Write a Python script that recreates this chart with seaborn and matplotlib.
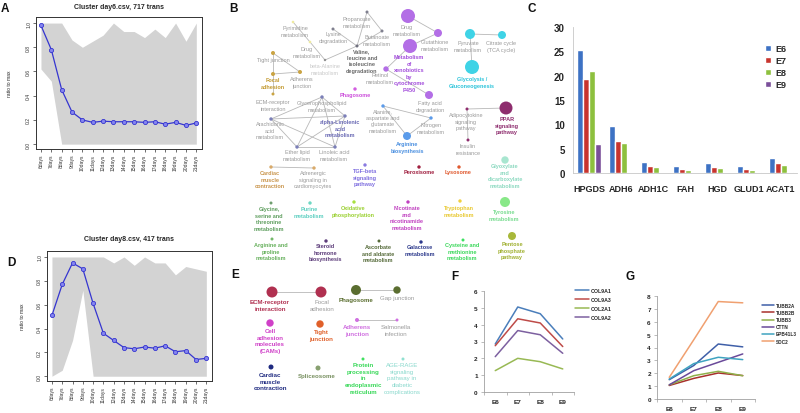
import numpy as np
import pandas as pd
import matplotlib
matplotlib.use("Agg")
import matplotlib.pyplot as plt
import seaborn as sns

W, H, DPI = 800, 414, 100

# ---- panels A / D: cluster profiles (mean line + grey envelope of members) ----
DAYS = ["6days", "7days", "8days", "9days", "10days", "11days", "12days", "13days",
        "14days", "15days", "16days", "17days", "18days", "19days", "20days", "21days"]
A_MEAN = [0.98, 0.78, 0.45, 0.265, 0.20, 0.18, 0.19, 0.185, 0.185, 0.185, 0.18, 0.185, 0.165, 0.18, 0.155, 0.175]
A_UPPER = [1.0, 1.0, 1.0, 0.86, 0.80, 0.85, 0.90, 1.0, 0.93, 0.93, 0.88, 0.95, 0.88, 1.0, 0.85, 1.0]
A_LOWER = [0.62, 0.52, 0.0, 0.0, 0.0, 0.0, 0.0, 0.0, 0.0, 0.0, 0.0, 0.0, 0.0, 0.0, 0.0, 0.0]
D_MEAN = [0.51, 0.77, 0.95, 0.90, 0.61, 0.36, 0.30, 0.24, 0.23, 0.245, 0.235, 0.255, 0.205, 0.215, 0.14, 0.15]
D_UPPER = [1.0, 1.0, 1.0, 1.0, 1.0, 1.0, 0.95, 1.0, 0.93, 1.0, 0.95, 0.95, 0.85, 0.92, 0.90, 0.88]
D_LOWER = [0.0, 0.05, 0.30, 0.72, 0.0, 0.0, 0.0, 0.0, 0.0, 0.0, 0.0, 0.0, 0.0, 0.0, 0.0, 0.0]

# ---- panel C: bar chart ----
C_GENES = ["HPGDS", "ADH6", "ADH1C", "FAH", "HGD", "GLUD1", "ACAT1"]
C_E6 = [25.2, 9.6, 2.3, 1.4, 2.0, 1.4, 3.0]
C_E7 = [19.4, 6.5, 1.5, 0.9, 1.3, 0.9, 2.1]
C_E8 = [20.9, 6.2, 1.2, 0.6, 1.0, 0.7, 1.7]
C_E9 = [6.0, 0.1, 0.0, 0.0, 0.0, 0.2, 0.2]

# ---- panels F / G: line charts ----
STAGES = ["E6", "E7", "E8", "E9"]
F_COL9A1 = [2.85, 5.05, 4.65, 3.15]
F_COL9A3 = [2.75, 4.35, 4.10, 2.70]
F_COL2A1 = [1.27, 2.00, 1.80, 1.37]
F_COL9A2 = [2.10, 3.65, 3.40, 2.30]
G_TUBB2A = [1.50, 2.60, 4.27, 4.05]
G_TUBB2B = [1.05, 1.60, 2.02, 1.82]
G_TUBB3 = [1.10, 1.81, 2.15, 1.81]
G_CTTN = [1.10, 2.20, 2.85, 3.50]
G_EPB41L3 = [1.55, 2.75, 3.24, 3.06]
G_SDC2 = [1.68, 4.60, 7.57, 7.47]

# ---- panels B / E: enrichment networks ----
B_LABELS = {
    "pyrim": "Pyrimidine\nmetabolism", "propa": "Propanoate\nmetabolism", "lysin": "Lysine\ndegradation",
    "butan": "Butanoate\nmetabolism", "drugy": "Drug\nmetabolism",
    "valin": "Valine,\nleucine and\nisoleucine\ndegradation", "betaA": "beta-Alanine\nmetabolism",
    "drugp": "Drug\nmetabolism", "gluta": "Glutathione\nmetabolism",
    "xenob": "Metabolism\nof\nxenobiotics\nby\ncytochrome\nP450", "retin": "Retinol\nmetabolism",
    "fatty": "Fatty acid\ndegradation", "pyruv": "Pyruvate\nmetabolism", "citra": "Citrate cycle\n(TCA cycle)",
    "glyco": "Glycolysis /\nGluconeogenesis", "tight": "Tight junction", "adher": "Adherens\njunction",
    "focal": "Focal\nadhesion", "ecm": "ECM-receptor\ninteraction", "phago": "Phagosome",
    "glyce": "Glycerophospholipid\nmetabolism", "arach": "Arachidonic\nacid\nmetabolism",
    "alpha": "alpha-Linolenic\nacid\nmetabolism", "ether": "Ether lipid\nmetabolism",
    "linol": "Linoleic acid\nmetabolism", "alani": "Alanine,\naspartate and\nglutamate\nmetabolism",
    "nitro": "Nitrogen\nmetabolism", "argbi": "Arginine\nbiosynthesis",
    "adipo": "Adipocytokine\nsignaling\npathway", "ppar": "PPAR\nsignaling\npathway",
    "insul": "Insulin\nresistance", "cardi": "Cardiac\nmuscle\ncontraction",
    "adren": "Adrenergic\nsignaling in\ncardiomyocytes", "tgfb": "TGF-beta\nsignaling\npathway",
    "perox": "Peroxisome", "lysos": "Lysosome", "glyox": "Glyoxylate\nand\ndicarboxylate\nmetabolism",
    "glyci": "Glycine,\nserine and\nthreonine\nmetabolism", "purin": "Purine\nmetabolism",
    "oxida": "Oxidative\nphosphorylation", "nicot": "Nicotinate\nand\nnicotinamide\nmetabolism",
    "trypt": "Tryptophan\nmetabolism", "tyros": "Tyrosine\nmetabolism",
    "argpr": "Arginine and\nproline\nmetabolism", "stero": "Steroid\nhormone\nbiosynthesis",
    "ascor": "Ascorbate\nand aldarate\nmetabolism", "galac": "Galactose\nmetabolism",
    "cyste": "Cysteine and\nmethionine\nmetabolism", "pento": "Pentose\nphosphate\npathway",
}
B_EDGES = [("pyrim", "drugy"), ("drugy", "betaA"), ("propa", "butan"), ("propa", "valin"),
           ("lysin", "valin"), ("butan", "valin"), ("valin", "betaA"),
           ("drugp", "gluta"), ("gluta", "xenob"), ("xenob", "retin"), ("retin", "fatty"),
           ("pyruv", "citra"), ("pyruv", "glyco"),
           ("tight", "adher"), ("tight", "focal"), ("adher", "focal"), ("focal", "ecm"),
           ("glyce", "arach"), ("glyce", "alpha"), ("glyce", "ether"), ("glyce", "linol"),
           ("arach", "alpha"), ("arach", "ether"), ("arach", "linol"), ("alpha", "ether"),
           ("alpha", "linol"), ("ether", "linol"),
           ("alani", "nitro"), ("alani", "argbi"), ("nitro", "argbi"),
           ("adipo", "ppar"), ("adipo", "insul"), ("cardi", "adren")]
E_LABELS = {
    "ecm": "ECM-receptor\ninteraction", "focal": "Focal\nadhesion", "phago": "Phagosome",
    "gapj": "Gap junction", "cams": "Cell\nadhesion\nmolecules\n(CAMs)", "tight": "Tight\njunction",
    "adher": "Adherens\njunction", "salmo": "Salmonella\ninfection", "cardi": "Cardiac\nmuscle\ncontraction",
    "splic": "Spliceosome", "prote": "Protein\nprocessing\nin\nendoplasmic\nreticulum",
    "agera": "AGE-RAGE\nsignaling\npathway in\ndiabetic\ncomplications",
}
E_EDGES = [("ecm", "focal"), ("phago", "gapj"), ("adher", "salmo")]

# layout in pixels: node x, node y, node radius, label x, label top
B_LAYOUT = {
    "pyrim": (293, 23, 1.3, 295, 26), "propa": (367, 13, 1.5, 357, 17), "lysin": (333, 30, 1.5, 333, 32),
    "butan": (382, 32, 1.5, 377, 35), "drugy": (310, 43, 1.3, 307, 47), "valin": (357, 47, 1.5, 362, 49),
    "betaA": (325, 61, 1.2, 325, 64), "drugp": (408, 17, 7, 407, 25), "gluta": (438, 34, 4, 435, 40),
    "xenob": (410, 47, 7, 409, 55), "retin": (386, 70, 2.7, 380, 73), "fatty": (429, 96, 4, 430, 101),
    "pyruv": (470, 35, 5, 468, 41), "citra": (502, 36, 4, 501, 41), "glyco": (472, 68, 7, 472, 77),
    "tight": (273, 54, 2, 273, 58), "adher": (300, 73, 2, 302, 77), "focal": (273, 75, 2, 273, 78),
    "ecm": (273, 95, 1.5, 273, 100), "phago": (355, 90, 1.7, 355, 93), "glyce": (322, 98, 1.7, 322, 101),
    "arach": (271, 120, 1.7, 270, 122), "alpha": (345, 117, 1.7, 340, 120), "ether": (297, 148, 1.7, 297, 150),
    "linol": (335, 148, 1.7, 334, 150), "alani": (383, 107, 1.7, 383, 109), "nitro": (431, 119, 1.7, 431, 123),
    "argbi": (407, 137, 4, 407, 142), "adipo": (467, 110, 1.5, 466, 113), "ppar": (506, 109, 6.5, 507, 117),
    "insul": (468, 141, 1.5, 468, 144), "cardi": (271, 168, 1.7, 270, 171), "adren": (314, 169, 1.7, 313, 171),
    "tgfb": (365, 166, 1.7, 365, 169), "perox": (419, 168, 1.7, 419, 170), "lysos": (459, 168, 1.7, 458, 170),
    "glyox": (505, 161, 3.7, 505, 164), "glyci": (271, 204, 1.5, 269, 207), "purin": (310, 204, 1.7, 309, 207),
    "oxida": (354, 203, 1.7, 353, 206), "nicot": (408, 203, 1.7, 407, 206), "trypt": (460, 202, 1.7, 459, 206),
    "tyros": (505, 203, 5, 504, 210), "argpr": (272, 240, 1.5, 271, 243), "stero": (326, 242, 1.7, 325, 244),
    "ascor": (379, 242, 1.5, 378, 245), "galac": (421, 243, 1.7, 420, 245), "cyste": (463, 241, 1.5, 462, 243),
    "pento": (512, 237, 4, 512, 242),
}
E_LAYOUT = {
    "ecm": (272, 293, 5.5, 270, 300), "focal": (321, 293, 5.5, 322, 300), "phago": (356, 291, 5, 356, 298),
    "gapj": (397, 291, 3.7, 397, 296), "cams": (270, 324, 3.7, 270, 329), "tight": (320, 325, 3.7, 321, 330),
    "adher": (357, 321, 2, 357, 325), "salmo": (397, 321, 1.5, 396, 325), "cardi": (271, 368, 2.5, 270, 373),
    "splic": (318, 369, 2.5, 317, 374), "prote": (363, 360, 1.5, 363, 363), "agera": (403, 360, 1.5, 402, 363),
}
GRAY_TXT = "#9a9a9a"
# node colour, label colour, bold
B_STYLE = {
    "pyrim": ("#eeeaa0", GRAY_TXT, False), "propa": ("#80808f", GRAY_TXT, False),
    "lysin": ("#80808f", GRAY_TXT, False), "butan": ("#80808f", GRAY_TXT, False),
    "drugy": ("#eeeaa0", GRAY_TXT, False), "valin": ("#70707f", "#6a6a6a", True),
    "betaA": ("#909090", "#c8c8c8", False), "drugp": ("#b36ee6", GRAY_TXT, False),
    "gluta": ("#b36ee6", GRAY_TXT, False), "xenob": ("#b36ee6", "#a450dc", True),
    "retin": ("#b36ee6", GRAY_TXT, False), "fatty": ("#b36ee6", GRAY_TXT, False),
    "pyruv": ("#3fd3e6", GRAY_TXT, False), "citra": ("#3fd3e6", GRAY_TXT, False),
    "glyco": ("#3fd3e6", "#2ec4da", True), "tight": ("#caa443", GRAY_TXT, False),
    "adher": ("#caa443", GRAY_TXT, False), "focal": ("#caa443", "#c39a30", True),
    "ecm": ("#caa443", GRAY_TXT, False), "phago": ("#d25ee0", "#cc4fdb", True),
    "glyce": ("#7b7fb8", GRAY_TXT, False), "arach": ("#7b7fb8", GRAY_TXT, False),
    "alpha": ("#7b7fb8", "#6a6ab4", True), "ether": ("#7b7fb8", GRAY_TXT, False),
    "linol": ("#7b7fb8", GRAY_TXT, False), "alani": ("#5b9bea", GRAY_TXT, False),
    "nitro": ("#5b9bea", GRAY_TXT, False), "argbi": ("#5b9bea", "#4a8fe0", True),
    "adipo": ("#8e2d6e", GRAY_TXT, False), "ppar": ("#8e2d6e", "#8e2d6e", True),
    "insul": ("#8e2d6e", GRAY_TXT, False), "cardi": ("#d9aa6a", "#c9954c", True),
    "adren": ("#d9aa6a", GRAY_TXT, False), "tgfb": ("#8a7be0", "#7f6fe0", True),
    "perox": ("#a02040", "#a02040", True), "lysos": ("#e05a30", "#e05a30", True),
    "glyox": ("#a8e6d0", "#8cd9c0", True), "glyci": ("#6f9e6f", "#5e9e5e", True),
    "purin": ("#6ed8c4", "#5ccfc0", True), "oxida": ("#a8e040", "#9ad030", True),
    "nicot": ("#c040c0", "#c040c0", True), "trypt": ("#f0d040", "#e8c830", True),
    "tyros": ("#88e888", "#78dc90", True), "argpr": ("#74b86a", "#66b05c", True),
    "stero": ("#5c3c7a", "#5c3c7a", True), "ascor": ("#566b3a", "#566b3a", True),
    "galac": ("#2d3a8c", "#2d3a8c", True), "cyste": ("#3ce060", "#3ad85a", True),
    "pento": ("#a8b83a", "#a0b030", True),
}
E_STYLE = {
    "ecm": ("#b03050", "#b03050", True), "focal": ("#b03050", GRAY_TXT, False),
    "phago": ("#5b6e30", "#5b6e30", True), "gapj": ("#5b6e30", GRAY_TXT, False),
    "cams": ("#d040c8", "#d040c8", True), "tight": ("#e0602a", "#e0602a", True),
    "adher": ("#d070e0", "#d070e0", True), "salmo": ("#d070e0", GRAY_TXT, False),
    "cardi": ("#1e2a80", "#1e2a80", True), "splic": ("#88a070", "#789060", True),
    "prote": ("#40e060", "#38d858", True), "agera": ("#90e0d0", "#88d8cc", False),
}


def px_axes(fig, left, top, right, bottom):
    ax = fig.add_axes([left / W, 1 - bottom / H, (right - left) / W, (bottom - top) / H])
    ax.patch.set_alpha(0)
    return ax


def r_to_s(r):
    return (2 * r * 72 / DPI) ** 2


def draw_cluster(ax, mean, upper, lower, title, title_pad, ylab_x):
    x = np.arange(len(DAYS))
    ax.fill_between(x, lower, upper, color="#d3d3d3", linewidth=0, zorder=1)
    sns.lineplot(x=x, y=mean, ax=ax, color="#3535d0", linewidth=0.9, marker="o", markersize=3,
                 markerfacecolor="#8585ee", markeredgecolor="#3535d0", markeredgewidth=0.6, zorder=3)
    ax.set_xlim(-0.48, 15.55)
    ax.set_ylim(-0.04, 1.05)
    ax.set_xticks(x)
    ax.set_xticklabels(DAYS, rotation=90, fontsize=3.6)
    yt = [0.0, 0.2, 0.4, 0.6, 0.8, 1.0]
    ax.set_yticks(yt)
    ax.set_yticklabels([f"{v:.1f}" for v in yt], rotation=90, va="center", fontsize=3.6)
    for s in ax.spines.values():
        s.set_visible(True)
        s.set_color("#333333")
        s.set_linewidth(0.7)
    ax.tick_params(bottom=True, left=True, length=2, width=0.5, pad=1.5, colors="#333333")
    ax.set_title(title, fontsize=5, fontweight="bold", pad=title_pad)
    ax.set_ylabel("ratio to max", fontsize=3.6)
    ax.yaxis.set_label_coords(ylab_x, 0.5)
    ax.set_xlabel("")


def draw_network(ax, labels, layout, style, edges, fs, lsp):
    for a, b in edges:
        ax.plot([layout[a][0], layout[b][0]], [layout[a][1], layout[b][1]],
                color="#b8b8b8", linewidth=0.6, zorder=1)
    keys = list(labels)
    nodes = pd.DataFrame({
        "key": keys,
        "x": [layout[k][0] for k in keys],
        "y": [layout[k][1] for k in keys],
        "s": [r_to_s(layout[k][2]) for k in keys],
    })
    sns.scatterplot(data=nodes, x="x", y="y", hue="key", size="key",
                    sizes={k: v for k, v in zip(nodes["key"], nodes["s"])},
                    palette={k: style[k][0] for k in keys}, linewidth=0, legend=False, ax=ax, zorder=2)
    for k in keys:
        lx, ly = layout[k][3], layout[k][4]
        ax.text(lx, ly, labels[k], ha="center", va="top", fontsize=fs, linespacing=lsp,
                color=style[k][1], fontweight="bold" if style[k][2] else "normal", zorder=3)


def draw_excel_lines(ax, series, colors, ymax, leg_anchor, leg_fs, leg_sp):
    df = pd.concat([pd.DataFrame({"stage": STAGES, "value": v, "gene": g}) for g, v in series.items()])
    df["pos"] = df["stage"].map({s: i for i, s in enumerate(STAGES)})
    sns.lineplot(data=df, x="pos", y="value", hue="gene", palette=colors, linewidth=1.1, ax=ax, sort=False)
    handles, labs = ax.get_legend_handles_labels()
    ax.legend(handles, labs, loc="upper left", bbox_to_anchor=leg_anchor, frameon=False,
              prop={"size": leg_fs, "weight": "bold"}, handlelength=2.6, handletextpad=0.3,
              labelspacing=leg_sp, borderaxespad=0, borderpad=0)
    ax.set_xlim(-0.5, 3.5)
    ax.set_ylim(0, ymax)
    ax.set_xticks(range(4))
    ax.set_xticklabels(STAGES, fontsize=4.6, fontweight="bold")
    ax.set_xticks([-0.5, 0.5, 1.5, 2.5, 3.5], minor=True)
    ax.set_yticks(range(ymax + 1))
    ax.set_yticklabels([str(v) for v in range(ymax + 1)], fontsize=4.6, fontweight="bold")
    ax.tick_params(axis="x", which="major", length=0, pad=5)
    ax.tick_params(axis="x", which="minor", bottom=True, length=2, width=0.5, color="#a0a0a0")
    ax.tick_params(axis="y", left=True, length=2, width=0.5, color="#a0a0a0", pad=2.5)
    for side in ["top", "right"]:
        ax.spines[side].set_visible(False)
    for side in ["left", "bottom"]:
        ax.spines[side].set_color("#a0a0a0")
        ax.spines[side].set_linewidth(0.6)
    ax.set_xlabel("")
    ax.set_ylabel("")


sns.set_theme(style="white")
plt.rcParams["font.family"] = ["Liberation Sans", "DejaVu Sans"]

fig = plt.figure(figsize=(W / DPI, H / DPI), dpi=DPI)

# overlay in pixel coordinates: networks and panel letters
ov = fig.add_axes([0, 0, 1, 1])
ov.set_xlim(0, W)
ov.set_ylim(H, 0)
ov.axis("off")
draw_network(ov, B_LABELS, B_LAYOUT, B_STYLE, B_EDGES, 4.0, 1.4)
draw_network(ov, E_LABELS, E_LAYOUT, E_STYLE, E_EDGES, 4.4, 1.42)
for letter, lx, ly in [("A", 5, 9), ("B", 233, 9), ("C", 532, 9), ("D", 11, 263),
                       ("E", 235, 275), ("F", 455, 277), ("G", 630, 277)]:
    ov.text(lx, ly, letter, fontsize=8.5, fontweight="bold", color="#111111", ha="center", va="center")

# A
axA = px_axes(fig, 36, 18, 202, 150)
draw_cluster(axA, A_MEAN, A_UPPER, A_LOWER, "Cluster day6.csv, 717 trans", 6.5, -0.145)

# D
axD = px_axes(fig, 47, 252, 212, 382)
draw_cluster(axD, D_MEAN, D_UPPER, D_LOWER, "Cluster day8.csv, 417 trans", 8, -0.135)

# C
axC = px_axes(fig, 573, 28, 797, 174)
c_df = pd.DataFrame({"gene": C_GENES, "E6": C_E6, "E7": C_E7, "E8": C_E8, "E9": C_E9})
c_long = c_df.melt(id_vars="gene", var_name="stage", value_name="value")
sns.barplot(data=c_long, x="gene", y="value", hue="stage", width=0.76, saturation=1,
            palette={"E6": "#3d72c4", "E7": "#c8342e", "E8": "#8dc03e", "E9": "#7a4f9a"}, ax=axC)
axC.set_ylim(0, 30)
axC.set_yticks([0, 5, 10, 15, 20, 25, 30])
axC.set_yticklabels(["0", "5", "10", "15", "20", "25", "30"], fontsize=7, fontweight="bold")
axC.set_xticks(range(len(C_GENES)))
axC.set_xticklabels(C_GENES, fontsize=6.5, fontweight="bold")
axC.tick_params(axis="x", length=0, pad=8)
axC.tick_params(axis="y", length=0, pad=6)
for side in ["top", "right"]:
    axC.spines[side].set_visible(False)
for side in ["left", "bottom"]:
    axC.spines[side].set_color("#c8c8c8")
    axC.spines[side].set_linewidth(0.6)
axC.set_xlabel("")
axC.set_ylabel("")
h, l = axC.get_legend_handles_labels()
axC.legend(h, l, loc="upper left", bbox_to_anchor=((765 - 573) / 224, 1 - (45 - 28) / 146), frameon=False,
           prop={"size": 6.5, "weight": "bold"}, handlelength=0.7, handleheight=0.7, handletextpad=0.4,
           labelspacing=0.35, borderaxespad=0, borderpad=0)

# F
axF = px_axes(fig, 484, 292, 574, 393)
draw_excel_lines(axF, {"COL9A1": F_COL9A1, "COL9A3": F_COL9A3, "COL2A1": F_COL2A1, "COL9A2": F_COL9A2},
                 {"COL9A1": "#4a7ebb", "COL9A3": "#be4b48", "COL2A1": "#98b954", "COL9A2": "#7d60a0"},
                 6, ((575 - 484) / 90, 1.03), 3.8, 0.75)

# G
axG = px_axes(fig, 657, 297, 755, 400)
draw_excel_lines(axG, {"TUBB2A": G_TUBB2A, "TUBB2B": G_TUBB2B, "TUBB3": G_TUBB3, "CTTN": G_CTTN,
                       "EPB41L3": G_EPB41L3, "SDC2": G_SDC2},
                 {"TUBB2A": "#3f5fa8", "TUBB2B": "#a8302c", "TUBB3": "#8fb04a", "CTTN": "#6a4a9a",
                  "EPB41L3": "#3fa3c0", "SDC2": "#f0a070"},
                 8, ((762 - 657) / 98, 1 - (304 - 297) / 103), 3.4, 0.45)

fig.savefig("out.png", dpi=DPI)
